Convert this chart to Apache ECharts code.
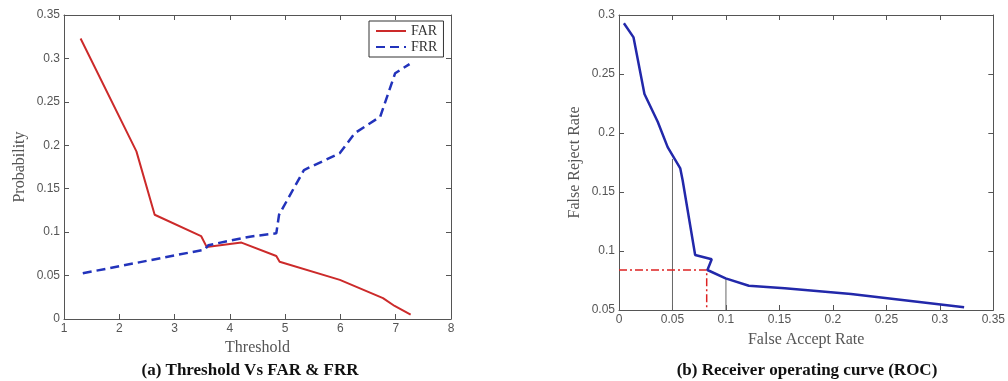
<!DOCTYPE html>
<html>
<head>
<meta charset="utf-8">
<script src="https://cdn.jsdelivr.net/npm/echarts@6/dist/echarts.min.js"></script>
<style>html,body{margin:0;padding:0;background:#fff}#c{width:1008px;height:381px}</style>
</head>
<body>
<div id="c"></div>
<script>
// ---- data ----
const farData = [[1.30,0.323],[2.31,0.193],[2.64,0.120],[3.48,0.0955],[3.58,0.083],[4.21,0.088],[4.84,0.0725],[4.90,0.066],[5.99,0.045],[6.77,0.024],[6.98,0.015],[7.27,0.005]];
const frrData = [[1.34,0.0526],[3.55,0.080],[3.61,0.085],[4.36,0.0948],[4.84,0.0986],[4.89,0.120],[5.34,0.1715],[5.99,0.191],[6.26,0.214],[6.72,0.233],[6.99,0.283],[7.25,0.2935]];
const rocData = [[0.0046,0.293],[0.0136,0.281],[0.0238,0.233],[0.0362,0.2096],[0.0455,0.188],[0.0573,0.170],[0.0595,0.160],[0.0712,0.0966],[0.0867,0.093],[0.0827,0.0839],[0.0997,0.0768],[0.1214,0.0706],[0.155,0.0684],[0.217,0.0636],[0.3227,0.0523]];
const guideGray1 = [[0.05,0.05],[0.05,0.178]];
const guideGray2 = [[0.1,0.05],[0.1,0.077]];
const guideRed = [[0,0.084],[0.082,0.084],[0.082,0.05]];
const seriesNames = ['FAR','FRR'];
const captions = ['(a) Threshold Vs FAR & FRR','(b) Receiver operating curve (ROC)'];
const axisNames = {x1:'Threshold', y1:'Probability', x2:'False Accept Rate', y2:'False Reject Rate'};

const fmt = v => String(+(+v).toFixed(2));
const axisLineC = '#555';
const labelStyle = {color:'#555', fontFamily:'Liberation Sans, Arial, sans-serif', fontSize:12};
const nameStyle = {color:'#555', fontFamily:'Liberation Serif, Times New Roman, serif', fontSize:16};
function mainAxis(type, grid, min, max, interval, name, nameGap){
  return {type:'value', gridIndex:grid, min:min, max:max, interval:interval,
    position: type==='x'?'bottom':'left',
    name:name, nameLocation:'middle', nameGap:nameGap, nameTextStyle:nameStyle,
    axisLine:{show:true,onZero:false,lineStyle:{color:axisLineC,width:1}},
    axisTick:{show:true,inside:true,length:5,lineStyle:{color:axisLineC}},
    axisLabel:{...labelStyle, margin:4, formatter:fmt, showMinLabel:true, showMaxLabel:true},
    splitLine:{show:false}};
}
function mirrorAxis(type, grid, min, max, interval){
  return {type:'value', gridIndex:grid, min:min, max:max, interval:interval,
    position: type==='x'?'top':'right',
    axisLine:{show:true,onZero:false,lineStyle:{color:axisLineC,width:1}},
    axisTick:{show:true,inside:true,length:5,lineStyle:{color:axisLineC}},
    axisLabel:{show:false}, splitLine:{show:false}};
}
const chart = echarts.init(document.getElementById('c'));
chart.setOption({
  animation:false,
  backgroundColor:'#fff',
  title:[
    {text:captions[0], left:245, top:357, textAlign:'center', textStyle:{fontFamily:'Liberation Serif, Times New Roman, serif', fontWeight:'bold', fontSize:17, color:'#111'}},
    {text:captions[1], left:802, top:357, textAlign:'center', textStyle:{fontFamily:'Liberation Serif, Times New Roman, serif', fontWeight:'bold', fontSize:17, color:'#111'}}
  ],
  legend:{data:seriesNames, orient:'vertical', left:369, top:21, padding:[3,6,3,6], itemGap:2,
    itemWidth:30, itemHeight:12, borderColor:'#333', borderWidth:1, backgroundColor:'#fff',
    itemStyle:{opacity:0},
    textStyle:{fontFamily:'Liberation Serif, Times New Roman, serif', fontSize:14, color:'#333'}},
  grid:[
    {left:64, top:15, width:387, height:304},
    {left:619, top:15, width:377, height:295}
  ],
  xAxis:[
    mainAxis('x',0,1,8,1,axisNames.x1,20),
    mirrorAxis('x',0,1,8,1),
    mainAxis('x',1,0,0.35,0.05,axisNames.x2,22),
    mirrorAxis('x',1,0,0.35,0.05)
  ],
  yAxis:[
    mainAxis('y',0,0,0.35,0.05,axisNames.y1,36),
    mirrorAxis('y',0,0,0.35,0.05),
    mainAxis('y',1,0.05,0.3,0.05,axisNames.y2,36),
    mirrorAxis('y',1,0.05,0.3,0.05)
  ],
  series:[
    {name:seriesNames[0], type:'line', xAxisIndex:0, yAxisIndex:0, data:farData, symbol:'none',
      lineStyle:{color:'#cc2a2a', width:2}, itemStyle:{color:'#cc2a2a'}},
    {name:seriesNames[1], type:'line', xAxisIndex:0, yAxisIndex:0, data:frrData, symbol:'none',
      lineStyle:{color:'#2233bb', width:2.5, type:[9,5]}, itemStyle:{color:'#2233bb'}},
    {type:'line', xAxisIndex:2, yAxisIndex:2, data:guideGray1, symbol:'none', lineStyle:{color:'#666', width:1}},
    {type:'line', xAxisIndex:2, yAxisIndex:2, data:guideGray2, symbol:'none', lineStyle:{color:'#666', width:1}},
    {type:'line', xAxisIndex:2, yAxisIndex:2, data:guideRed, symbol:'none', lineStyle:{color:'#dd2222', width:1.5, type:[8,3,2,3]}},
    {type:'line', xAxisIndex:2, yAxisIndex:2, data:rocData, symbol:'none', lineStyle:{color:'#2228aa', width:2.5}}
  ]
});
</script>
</body>
</html>
